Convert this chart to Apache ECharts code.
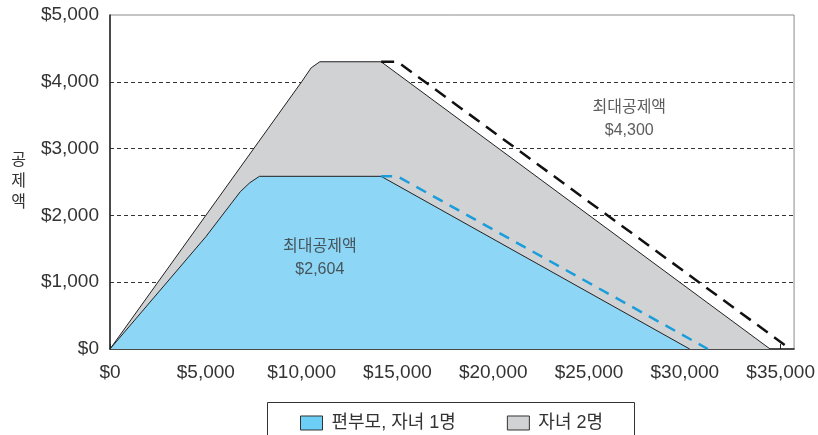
<!DOCTYPE html>
<html>
<head>
<meta charset="utf-8">
<script src="https://cdn.jsdelivr.net/npm/echarts@6/dist/echarts.min.js"></script>
<style>
  html, body { margin: 0; padding: 0; background: #fff; }
  #chart { width: 818px; height: 435px; }
</style>
</head>
<body>
<div id="chart"></div>
<script>
// 소득(x) / 공제액(y)
const oneChild = [[0, 0], [5000, 1680], [6800, 2355], [7300, 2490], [7800, 2585], [14150, 2585], [30250, 0]];
const twoChildren = [[0, 0], [10000, 4000], [10500, 4210], [10950, 4300], [14150, 4300], [34450, 0]];
const oneChildMax = [[14150, 2585], [15000, 2585], [31200, 0]];
const twoChildrenMax = [[14150, 4300], [15000, 4300], [35500, 0]];
const notes = [
  { value: [10950, 1360], name: '최대공제액\n$2,604' },
  { value: [27100, 3440], name: '최대공제액\n$4,300' }
];
const legendNames = ['편부모, 자녀 1명', '자녀 2명'];
const yTicks = [0, 1000, 2000, 3000, 4000, 5000];

const FONT = "'Liberation Sans', 'Noto Sans CJK KR', sans-serif";
const money = v => '$' + v.toLocaleString('en-US');

let chart = echarts.init(document.getElementById('chart'), null, { renderer: 'canvas' });

const option = {
  animation: false,
  textStyle: { fontFamily: FONT },
  grid: {
    left: 110, right: 21, top: 15, bottom: 86,
    containLabel: false,
    show: true,
    borderColor: '#8a8a8a',
    borderWidth: 1
  },
  xAxis: {
    type: 'value',
    min: 0, max: 35700, interval: 5000,
    axisLine: { lineStyle: { color: '#222', width: 1.5 } },
    axisTick: { show: true, inside: true, length: 5, lineStyle: { color: '#222' } },
    axisLabel: {
      showMaxLabel: false,
      formatter: money,
      color: '#333', fontSize: 19, fontFamily: FONT, margin: 14
    },
    splitLine: { show: false }
  },
  yAxis: {
    type: 'value',
    min: yTicks[0], max: yTicks[yTicks.length - 1], interval: 1000,
    name: '공\n제\n액',
    nameLocation: 'middle',
    nameRotate: 0,
    nameGap: 84,
    nameTextStyle: { color: '#333', fontSize: 16, lineHeight: 21, fontFamily: FONT },
    axisLine: { show: true, lineStyle: { color: '#222', width: 1.5 } },
    axisTick: { show: false },
    axisLabel: { formatter: money, color: '#333', fontSize: 19, fontFamily: FONT, margin: 11 },
    splitLine: {
      show: true,
      lineStyle: {
        color: ['rgba(0,0,0,0)', '#333', '#333', '#333', '#333', 'rgba(0,0,0,0)'],
        type: [4, 3],
        width: 1
      }
    }
  },
  legend: {
    data: legendNames,
    left: 295,
    top: 409,
    itemWidth: 22,
    itemHeight: 14,
    itemGap: 51,
    icon: 'rect',
    itemStyle: { borderColor: '#333', borderWidth: 1 },
    textStyle: { color: '#333', fontSize: 18, fontFamily: FONT, padding: [0, 0, 0, 4] },
    selectedMode: false
  },
  graphic: [{
    type: 'rect',
    left: 265, top: 400,
    shape: { width: 367, height: 60 },
    style: { fill: 'none', stroke: '#333', lineWidth: 1 },
    silent: true
  }],
  series: [
    {
      name: legendNames[1],
      type: 'line',
      data: twoChildren,
      symbol: 'none',
      lineStyle: { color: '#222', width: 1 },
      areaStyle: { color: '#d1d2d4', opacity: 1 },
      itemStyle: { color: '#d1d2d4' },
      z: 1
    },
    {
      name: legendNames[0],
      type: 'line',
      data: oneChild,
      symbol: 'none',
      lineStyle: { color: '#222', width: 1 },
      areaStyle: { color: '#8dd6f6', opacity: 1 },
      itemStyle: { color: '#6dcff6' },
      z: 2
    },
    {
      name: '자녀 1명 최대',
      type: 'line',
      data: oneChildMax,
      symbol: 'none',
      lineStyle: { color: '#1a9ddb', width: 2.5, type: [11, 8] },
      z: 3
    },
    {
      name: '자녀 2명 최대',
      type: 'line',
      data: twoChildrenMax,
      symbol: 'none',
      lineStyle: { color: '#111', width: 2.5, type: [13, 8] },
      z: 3
    },
    {
      name: 'notes',
      type: 'scatter',
      data: notes,
      symbolSize: 0,
      silent: true,
      label: {
        show: true,
        position: 'inside',
        formatter: p => p.name,
        color: '#333',
        fontSize: 16,
        lineHeight: 23,
        align: 'center',
        fontFamily: FONT
      },
      z: 4
    }
  ]
};

chart.setOption(option);
</script>
</body>
</html>
